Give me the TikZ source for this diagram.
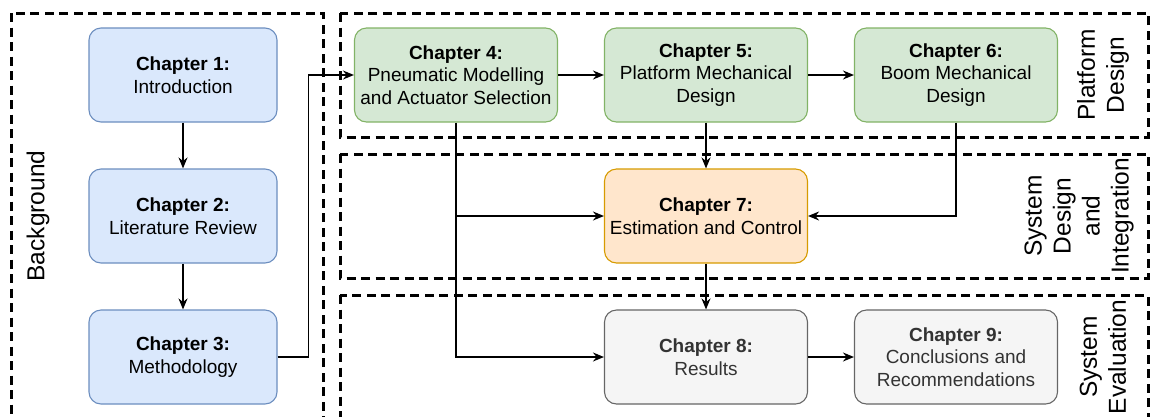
\documentclass[tikz,border=0pt]{standalone}
\usepackage{fontspec}
\setmainfont{Liberation Sans}
\usetikzlibrary{arrows.meta}

\definecolor{bluefill}{HTML}{DAE8FC}
\definecolor{blueline}{HTML}{6C8EBF}
\definecolor{greenfill}{HTML}{D5E8D4}
\definecolor{greenline}{HTML}{82B366}
\definecolor{orangefill}{HTML}{FFE6CC}
\definecolor{orangeline}{HTML}{D79B00}
\definecolor{greyfill}{HTML}{F5F5F5}
\definecolor{greyline}{HTML}{666666}
\definecolor{greytext}{HTML}{333333}

\tikzset{
	chap/.style = {draw, rounded corners=12pt, line width=1.1pt, align=center,
		minimum width=203pt, minimum height=94pt, inner sep=2pt,
		font=\fontsize{19}{22.5}\selectfont},
	bluechap/.style = {chap, fill=bluefill, draw=blueline, minimum width=188pt},
	greenchap/.style = {chap, fill=greenfill, draw=greenline},
	orangechap/.style = {chap, fill=orangefill, draw=orangeline},
	greychap/.style = {chap, fill=greyfill, draw=greyline, text=greytext},
	region/.style = {line width=3pt, dash pattern=on 9pt off 5.5pt},
	regionlabel/.style = {rotate=90, align=center, inner sep=0pt, font=\fontsize{24.5}{29}\selectfont},
	arr/.style = {line width=1.4pt, -{Stealth[length=11pt, width=9pt]}}
}

\begin{document}
\begin{tikzpicture}[x=1pt, y=-1pt]
		\useasboundingbox (0,0) rectangle (1150,416);
		% dashed regions
		\draw[region] (11,13) rectangle (323,440);
		\draw[region] (340,13) rectangle (1148,137);
		\draw[region] (340,154) rectangle (1148,278);
		\draw[region] (340,295) rectangle (1148,440);
		\node[regionlabel] (bg) at (38,216) {Background};
		\node[regionlabel] (pd) at (1103,75) {Platform\\Design};
		\node[regionlabel] (sd) at (1079,216) {System\\Design\\and\\Integration};
		\node[regionlabel] (se) at (1103,357) {System\\Evaluation};
		% chapters
		\node[bluechap] (ch1) at (183,75) {\textbf{Chapter 1:}\\Introduction};
		\node[bluechap] (ch2) at (183,216) {\textbf{Chapter 2:}\\Literature Review};
		\node[bluechap] (ch3) at (183,357) {\textbf{Chapter 3:}\\Methodology};
		\node[greenchap] (ch4) at (456,75) {\textbf{Chapter 4:}\\Pneumatic Modelling\\and Actuator Selection};
		\node[greenchap] (ch5) at (706,75) {\textbf{Chapter 5:}\\Platform Mechanical\\Design};
		\node[greenchap] (ch6) at (956,75) {\textbf{Chapter 6:}\\Boom Mechanical\\Design};
		\node[orangechap] (ch7) at (706,216) {\textbf{Chapter 7:}\\Estimation and Control};
		\node[greychap] (ch8) at (706,357) {\textbf{Chapter 8:}\\Results};
		\node[greychap] (ch9) at (956,357) {\textbf{Chapter 9:}\\Conclusions and\\Recommendations};
		% connectors
		\draw[arr] (ch1) -- (ch2);
		\draw[arr] (ch2) -- (ch3);
		\draw[arr] (ch3.east) -- ++(31,0) |- (ch4.west);
		\draw[arr] (ch4) -- (ch5);
		\draw[arr] (ch5) -- (ch6);
		\draw[arr] (ch4.south) |- (ch8.west);
		\draw[arr] (ch4.south |- ch7.west) -- (ch7.west);
		\draw[arr] (ch5) -- (ch7);
		\draw[arr] (ch6.south) |- (ch7.east);
		\draw[arr] (ch7) -- (ch8);
		\draw[arr] (ch8) -- (ch9);
	\end{tikzpicture}
\end{document}
